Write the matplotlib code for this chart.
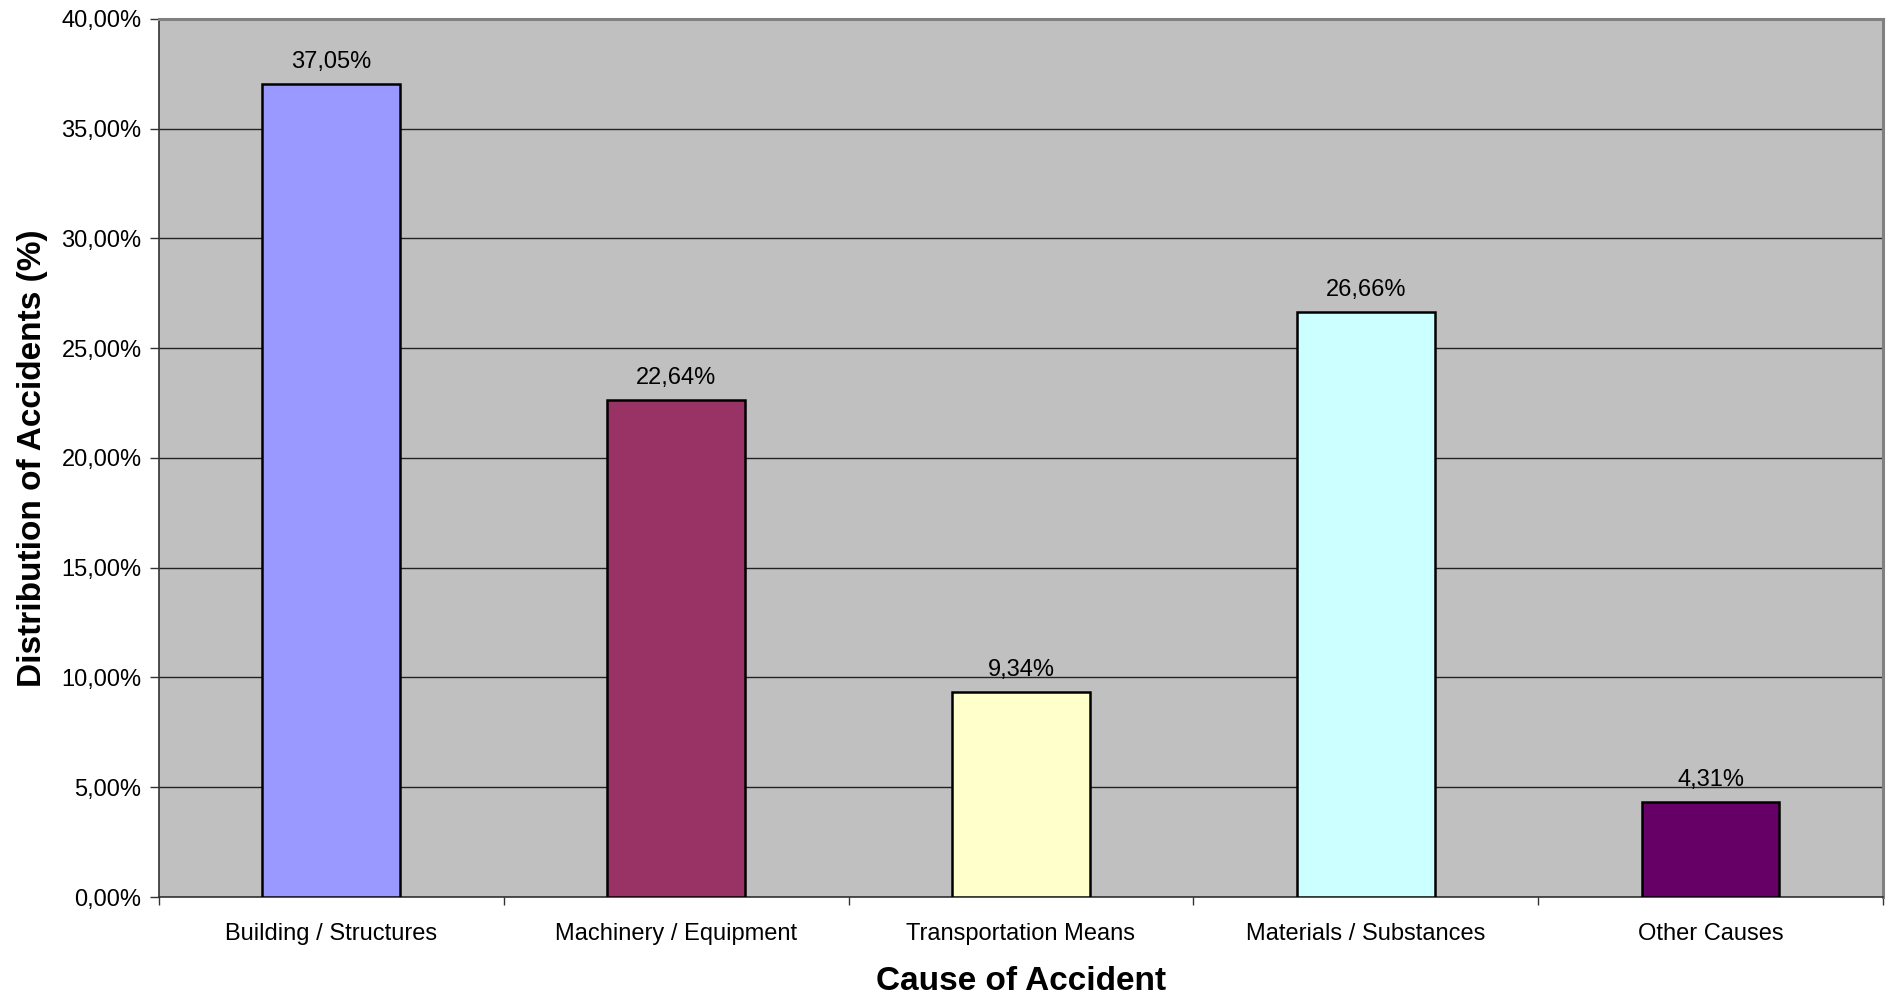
import numpy as np
import matplotlib.pyplot as plt
from matplotlib.ticker import FuncFormatter, FixedLocator

# Data
causes = ["Building / Structures", "Machinery / Equipment", "Transportation Means",
          "Materials / Substances", "Other Causes"]
shares = [37.05, 22.64, 9.34, 26.66, 4.31]
colors = ["#9999FF", "#993366", "#FFFFCC", "#CCFFFF", "#660066"]

plt.rcParams["font.family"] = ["Liberation Sans", "DejaVu Sans"]

fig = plt.figure(figsize=(18.92, 9.97), dpi=100)
ax = fig.add_axes([0.084, 0.1003, 0.9112, 0.8807])

x = np.arange(len(causes))
bars = ax.bar(x, shares, width=0.4, color=colors, edgecolor="black", linewidth=1.8, zorder=3)

for b, v in zip(bars, shares):
    ax.annotate(f"{v:.2f}%".replace(".", ","), (b.get_x() + b.get_width() / 2, v),
                xytext=(0, 8), textcoords="offset points", ha="center", va="bottom",
                fontsize=17)

ax.set_xlim(-0.5, len(causes) - 0.5)
ax.set_ylim(0, 40)
ax.set_facecolor("#C0C0C0")

ax.set_yticks(np.arange(0, 40.01, 5))
ax.yaxis.set_major_formatter(FuncFormatter(lambda v, p: f"{v:.2f}%".replace(".", ",")))
ax.grid(axis="y", color="#222222", linewidth=1.0, zorder=1)

ax.set_xticks(x)
ax.set_xticklabels(causes, fontsize=17)
ax.tick_params(axis="x", which="major", length=0, pad=19)
ax.xaxis.set_minor_locator(FixedLocator(np.arange(-0.5, len(causes), 1.0)))
ax.tick_params(axis="x", which="minor", length=6, width=1, color="#333333")
ax.tick_params(axis="y", length=6.5, width=1, color="#333333", labelsize=17, pad=6)

for side in ["top", "right"]:
    ax.spines[side].set_color("#808080")
    ax.spines[side].set_linewidth(2.2)
for side in ["left", "bottom"]:
    ax.spines[side].set_color("#333333")
    ax.spines[side].set_linewidth(1.2)

ax.set_xlabel("Cause of Accident", fontsize=24, fontweight="bold", labelpad=15)
ax.set_ylabel("Distribution of Accidents (%)", fontsize=24, fontweight="bold", labelpad=10)

fig.savefig("out.png", dpi=100)
